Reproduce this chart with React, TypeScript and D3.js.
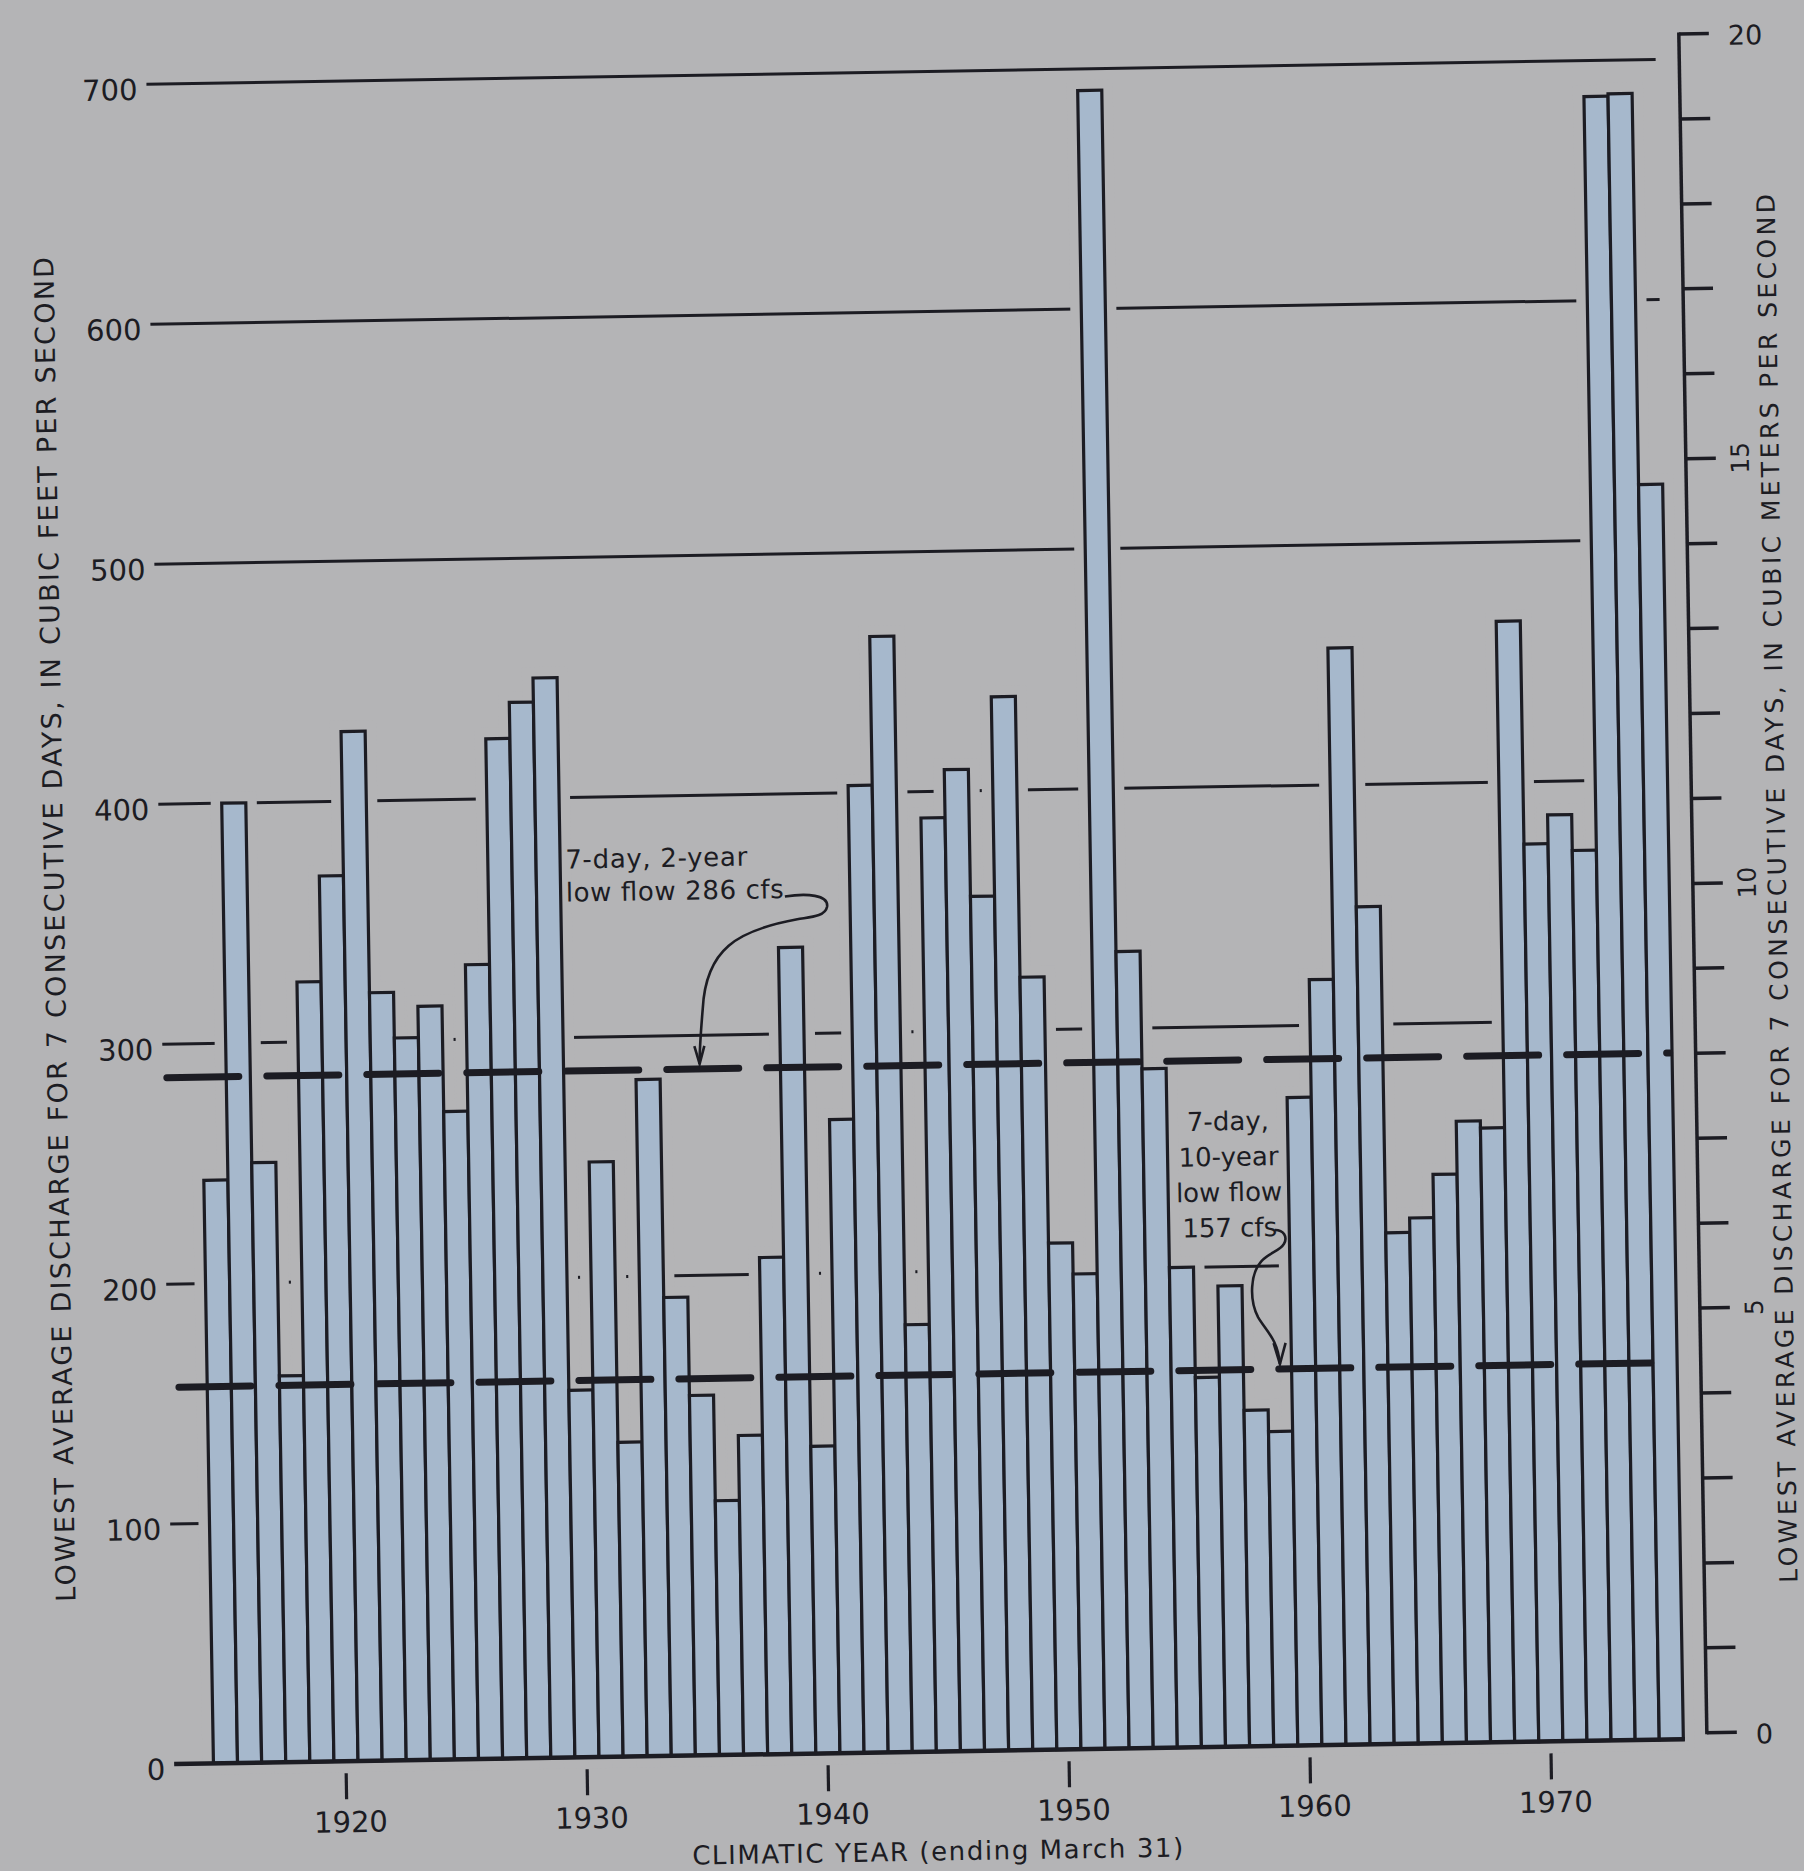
import React from 'react';
import * as d3 from 'd3';

// ---------- data ----------
const years = [
  1915, 1916, 1917, 1918, 1919, 1920, 1921, 1922, 1923, 1924,
  1925, 1926, 1927, 1928, 1929, 1930, 1931, 1932, 1933, 1934,
  1935, 1936, 1937, 1938, 1939, 1940, 1941, 1942, 1943, 1944,
  1945, 1946, 1947, 1948, 1949, 1950, 1951, 1952, 1953, 1954,
  1955, 1956, 1957, 1958, 1959, 1960, 1961, 1962, 1963, 1964,
  1965, 1966, 1967, 1968, 1969, 1970, 1971, 1972, 1973, 1974, 1975,
];
// lowest average discharge for 7 consecutive days, cfs
const lowFlowCfs = [
  243, 400, 250, 161, 325, 369, 429, 320, 301, 314,
  270, 331, 425, 440, 450, 153, 248, 131, 282, 191,
  150, 106, 133, 207, 336, 128, 264, 403, 465, 178,
  389, 409, 356, 439, 322, 211, 198, 691, 332, 283,
  200, 154, 192, 140, 131, 270, 319, 457, 349, 213,
  219, 237, 259, 256, 467, 374, 386, 371, 685, 686, 523,
];
const leftTicks = [0, 100, 200, 300, 400, 500, 600, 700];
const rightTicks = [0, 1, 2, 3, 4, 5, 6, 7, 8, 9, 10, 11, 12, 13, 14, 15, 16, 17, 18, 19, 20];
const rightLabels = [0, 5, 10, 15, 20];
const yearTicks = [1920, 1930, 1940, 1950, 1960, 1970];
const twoYearLowFlow = 286;
const tenYearLowFlow = 157;
const twoYearArrowYear = 1935.15;
const tenYearArrowYear = 1959.02;

// ---------- style ----------
const W = 1804;
const H = 1871;
const BG = '#b4b4b6';
const BAR = '#a6b8cc';
const INK = '#1c1c23';
const FONT = '"DejaVu Sans", "Liberation Sans", sans-serif';

export default function App() {
  const plotLeft = 199.3;
  const plotRight = 1669.4;
  const x = d3.scaleBand<number>().domain(years).range([plotLeft, plotRight]).padding(0);
  const bw = x.bandwidth();
  const xc = d3
    .scaleLinear()
    .domain([years[0] - 0.5, years[years.length - 1] + 0.5])
    .range([plotLeft, plotRight]);
  const y = d3.scaleLinear().domain([0, 700]).range([1752, 72]);
  const yR = d3.scaleLinear().domain([0, 20]).range([1746, 47]);
  const axisR = 1693;

  const bars = years.map((yr, i) => ({ yr, v: lowFlowCfs[i] }));
  const a1 = { x: xc(twoYearArrowYear), y: y(twoYearLowFlow) };
  const a2 = { x: xc(tenYearArrowYear), y: y(tenYearLowFlow) };

  return (
    <svg
      width={W}
      height={H}
      xmlns="http://www.w3.org/2000/svg"
      style={{ position: 'absolute', left: 0, top: 0, display: 'block' }}
    >
      <rect x={0} y={0} width={W} height={H} fill={BG} />
      <g transform="rotate(-0.945 900 900)" fontFamily={FONT} fill={INK}>
        {/* gridlines */}
        {leftTicks
          .filter((v) => v > 0)
          .map((v) => (
            <line key={'g' + v} x1={160} x2={plotRight} y1={y(v)} y2={y(v)} stroke={INK} strokeWidth={3} />
          ))}
        {/* halos interrupting the gridlines around bars */}
        {bars.map((b) => (
          <rect
            key={'h' + b.yr}
            x={x(b.yr)}
            y={y(b.v)}
            width={bw}
            height={y(0) - y(b.v)}
            fill={BG}
            stroke={BG}
            strokeWidth={22}
          />
        ))}
        {/* bars */}
        {bars.map((b) => (
          <rect
            key={'b' + b.yr}
            x={x(b.yr)}
            y={y(b.v)}
            width={bw}
            height={y(0) - y(b.v)}
            fill={BAR}
            stroke={INK}
            strokeWidth={3.2}
          />
        ))}
        {/* baseline */}
        <line x1={160} x2={plotRight + 1.5} y1={y(0)} y2={y(0)} stroke={INK} strokeWidth={4.5} />

        {/* recurrence low-flow lines */}
        <line
          x1={164}
          x2={1667}
          y1={y(twoYearLowFlow)}
          y2={y(twoYearLowFlow)}
          stroke={INK}
          strokeWidth={7}
          strokeDasharray="72 28"
          strokeLinecap="round"
        />
        <line
          x1={171}
          x2={1670}
          y1={y(tenYearLowFlow)}
          y2={y(tenYearLowFlow)}
          stroke={INK}
          strokeWidth={7}
          strokeDasharray="72 28"
          strokeLinecap="round"
        />

        {/* left tick labels */}
        {leftTicks.map((v) => (
          <text key={'l' + v} x={151} y={y(v) + 15.5} fontSize={29} textAnchor="end">
            {v}
          </text>
        ))}

        {/* x ticks */}
        {yearTicks.map((yr) => (
          <g key={'x' + yr}>
            <line x1={xc(yr)} x2={xc(yr)} y1={1764} y2={1790} stroke={INK} strokeWidth={3.2} />
            <text x={xc(yr) + 4} y={1823} fontSize={29} textAnchor="middle">
              {yr}
            </text>
          </g>
        ))}

        {/* right axis */}
        <line x1={axisR} x2={axisR} y1={yR(0) + 1.5} y2={yR(20) - 1.5} stroke={INK} strokeWidth={3.5} />
        {rightTicks.map((v) => (
          <line key={'rt' + v} x1={axisR} x2={axisR + 30} y1={yR(v)} y2={yR(v)} stroke={INK} strokeWidth={3.5} />
        ))}
        {rightLabels.map((v) =>
          v === 0 || v === 20 ? (
            <text key={'rl' + v} x={1742} y={yR(v) + 11.5} fontSize={27}>
              {v}
            </text>
          ) : (
            <text
              key={'rl' + v}
              x={1756}
              y={yR(v)}
              fontSize={25}
              textAnchor="middle"
              transform={`rotate(-90 1756 ${yR(v)})`}
            >
              {v}
            </text>
          )
        )}

        {/* axis titles */}
        <text
          x={64}
          y={915.5}
          fontSize={27}
          textAnchor="middle"
          textLength={1345}
          lengthAdjust="spacing"
          transform="rotate(-90 64 915.5)"
        >
          LOWEST AVERAGE DISCHARGE FOR 7 CONSECUTIVE DAYS, IN CUBIC FEET PER SECOND
        </text>
        <text
          x={1786}
          y={903}
          fontSize={25}
          textAnchor="middle"
          textLength={1389}
          lengthAdjust="spacing"
          transform="rotate(-90 1786 903)"
        >
          LOWEST AVERAGE DISCHARGE FOR 7 CONSECUTIVE DAYS, IN CUBIC METERS PER SECOND
        </text>
        <text x={922} y={1861} fontSize={26} textAnchor="middle" textLength={491} lengthAdjust="spacing">
          CLIMATIC YEAR (ending March 31)
        </text>

        {/* annotation: 2-year low flow */}
        <text x={a1.x - 131} y={a1.y - 202.5} fontSize={26} textLength={182} lengthAdjust="spacing">
          7-day, 2-year
        </text>
        <text x={a1.x - 131} y={a1.y - 169.5} fontSize={26} textLength={218} lengthAdjust="spacing">
          low flow 286 cfs
        </text>
        <g transform={`translate(${a1.x},${a1.y})`} fill="none" stroke={INK} strokeWidth={2.6}>
          <path d="M 88,-171 C 110,-174 132,-172 130,-160 C 128,-150 112,-150 100,-148 C 40,-138 8,-120 4,-60 C 2,-40 0,-20 0,-5" />
          <path d="M -5,-23 L 0,-5 L 5,-23" strokeLinejoin="miter" />
        </g>

        {/* annotation: 10-year low flow */}
        {['7-day,', '10-year', 'low flow', '157 cfs'].map((t, i) => (
          <text key={'t2' + i} x={a2.x - 48} y={a2.y - 239.5 + i * 35.5} fontSize={26} textAnchor="middle">
            {t}
          </text>
        ))}
        <g transform={`translate(${a2.x},${a2.y})`} fill="none" stroke={INK} strokeWidth={2.6}>
          <path d="M -3,-139 C 6,-139 10,-132 6,-125 C 2,-118 -10,-116 -17,-108 C -28,-96 -30,-70 -21,-52 C -13,-38 -2,-30 0,-5" />
          <path d="M -6,-26 L 0,-5 L 6,-26" strokeLinejoin="miter" />
        </g>
      </g>
    </svg>
  );
}
